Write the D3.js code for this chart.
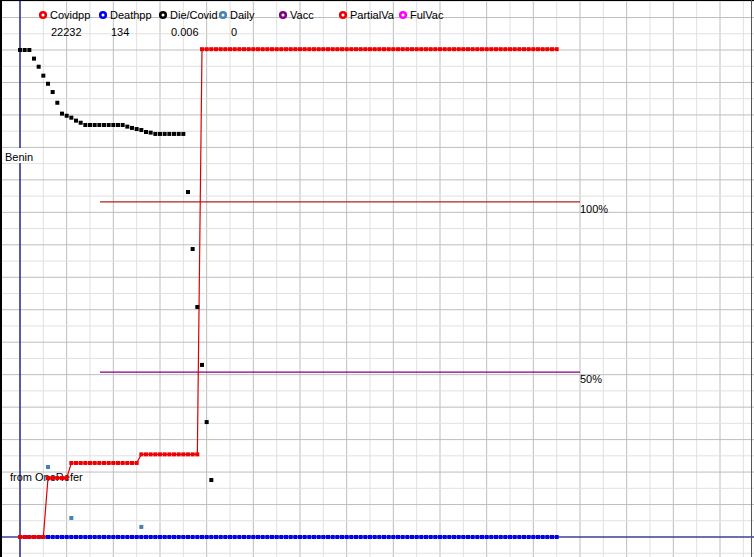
<!DOCTYPE html>
<html>
<head>
<meta charset="utf-8">
<script src="https://cdn.jsdelivr.net/npm/d3@7"></script>
<style>
  body { margin: 0; background: #fff; }
  svg { display: block; font-family: "Liberation Sans", Arial, sans-serif; }
</style>
</head>
<body>
<svg id="chart" width="754" height="557"></svg>
<script>
// legend
var seriesNames = ["Covidpp", "Deathpp", "Die/Covid", "Daily", "Vacc", "PartialVa", "FulVac"];
var seriesColors = ["#ee0000", "#0000ee", "#000000", "#4682b4", "#800080", "#ee0000", "#ff00ff"];
var latestValues = ["22232", "134", "0.006", "0", "", "", ""];

// values in chart units (one grid row = 1), index = day
var dieCovid = [30, 30, 30, 29.47, 28.97, 28.42, 27.92, 27.41, 26.75, 26.08,
  25.95, 25.83, 25.65, 25.52, 25.38, 25.38, 25.38, 25.38, 25.38, 25.38,
  25.38, 25.38, 25.38, 25.28, 25.2, 25.13, 25.07, 24.95, 24.91, 24.83,
  24.83, 24.83, 24.83, 24.83, 24.83, 24.83, 21.25, 17.74, 14.17, 10.6,
  7.08, 3.51];

// partial vaccination: [first day, last day, value]
var partialSteps = [[0, 5, 0], [6, 10, 3.63], [11, 25, 4.56], [26, 38, 5.09], [39, 115, 30.05]];
var deathDays = 116;
var dailyVacc = [[6, 4.31], [11, 1.17], [26, 0.62]];

var refLines = [{label: "100%", value: 20.64, color: "#b22222"}, {label: "50%", value: 10.16, color: "#800080"}];
var refStart = 17.14, refEnd = 120;

var partialVa = [];
partialSteps.forEach(function(s) {
  for (var d = s[0]; d <= s[1]; d++) partialVa.push([d, s[2]]);
});
var deathpp = d3.range(deathDays).map(d => [d, 0]);

var svg = d3.select("#chart"),
  W = +svg.attr("width"), H = +svg.attr("height");

var x = d3.scaleLinear().domain([0, 150]).range([20, 720]);
var y = d3.scaleLinear().domain([0, 30]).range([537, 50]);

// grid
var grid = svg.append("g");
d3.range(0, 160, 5).forEach(function(k) {
  grid.append("line")
    .attr("x1", x(k)).attr("x2", x(k)).attr("y1", 0).attr("y2", H)
    .attr("stroke", k % 10 == 0 ? "#bdbdbd" : "#e0e0e0");
});
d3.range(-1, 34).forEach(function(k) {
  grid.append("line")
    .attr("x1", 0).attr("x2", W).attr("y1", y(k)).attr("y2", y(k))
    .attr("stroke", k % 2 == 0 ? "#bdbdbd" : "#e0e0e0");
});

// reference lines
refLines.forEach(function(r) {
  svg.append("line")
    .attr("x1", x(refStart)).attr("x2", x(refEnd))
    .attr("y1", y(r.value)).attr("y2", y(r.value))
    .attr("stroke", r.color).attr("stroke-width", 1.2);
  svg.append("text")
    .attr("x", x(refEnd)).attr("y", y(r.value) + 11)
    .attr("font-size", "11px")
    .text(r.label);
});

// axes
svg.append("line")
  .attr("x1", x(0)).attr("x2", x(0)).attr("y1", 0).attr("y2", H)
  .attr("stroke", "#000080").attr("stroke-width", 1.2);
svg.append("line")
  .attr("x1", 0).attr("x2", W).attr("y1", y(0)).attr("y2", y(0))
  .attr("stroke", "#000080").attr("stroke-width", 1.2);

// frame
svg.append("line").attr("x1", 1).attr("x2", 1).attr("y1", 0).attr("y2", H)
  .attr("stroke", "#000").attr("stroke-width", 2);
svg.append("line").attr("x1", 0).attr("x2", W).attr("y1", 0.5).attr("y2", 0.5)
  .attr("stroke", "#000");
svg.append("line").attr("x1", W - 2.5).attr("x2", W - 2.5).attr("y1", 0).attr("y2", H)
  .attr("stroke", "#555");

// labels
svg.append("rect").attr("x", 4).attr("y", 148).attr("width", 30).attr("height", 15).attr("fill", "#fff");
svg.append("text").attr("x", 5).attr("y", 161).attr("font-size", "11px").text("Benin");
svg.append("text").attr("x", 10).attr("y", 481).attr("font-size", "11px").text("from OneRefer");

function squares(data, color) {
  svg.append("g").selectAll("rect")
    .data(data).enter().append("rect")
    .attr("x", d => x(d[0]) - 2)
    .attr("y", d => y(d[1]) - 2)
    .attr("width", 4).attr("height", 4)
    .attr("fill", color);
}

squares(deathpp, "#0000ee");

svg.append("path")
  .datum(partialVa)
  .attr("fill", "none")
  .attr("stroke", "#dd0000")
  .attr("stroke-width", 1.2)
  .attr("d", d3.line().x(d => x(d[0])).y(d => y(d[1])));
squares(partialVa, "#ee0000");

squares(dieCovid.map((v, i) => [i, v]), "#000");
squares(dailyVacc, "#4682b4");

// legend
var legend = svg.append("g").attr("font-size", "11px");
seriesNames.forEach(function(name, i) {
  var lx = 43 + i * 60;
  legend.append("circle")
    .attr("cx", lx).attr("cy", 15).attr("r", 2.8)
    .attr("fill", "#fff")
    .attr("stroke", seriesColors[i]).attr("stroke-width", 2.6);
  legend.append("text")
    .attr("x", lx + 7).attr("y", 19)
    .text(name);
  legend.append("text")
    .attr("x", lx + 8).attr("y", 36)
    .text(latestValues[i]);
});
</script>
</body>
</html>
